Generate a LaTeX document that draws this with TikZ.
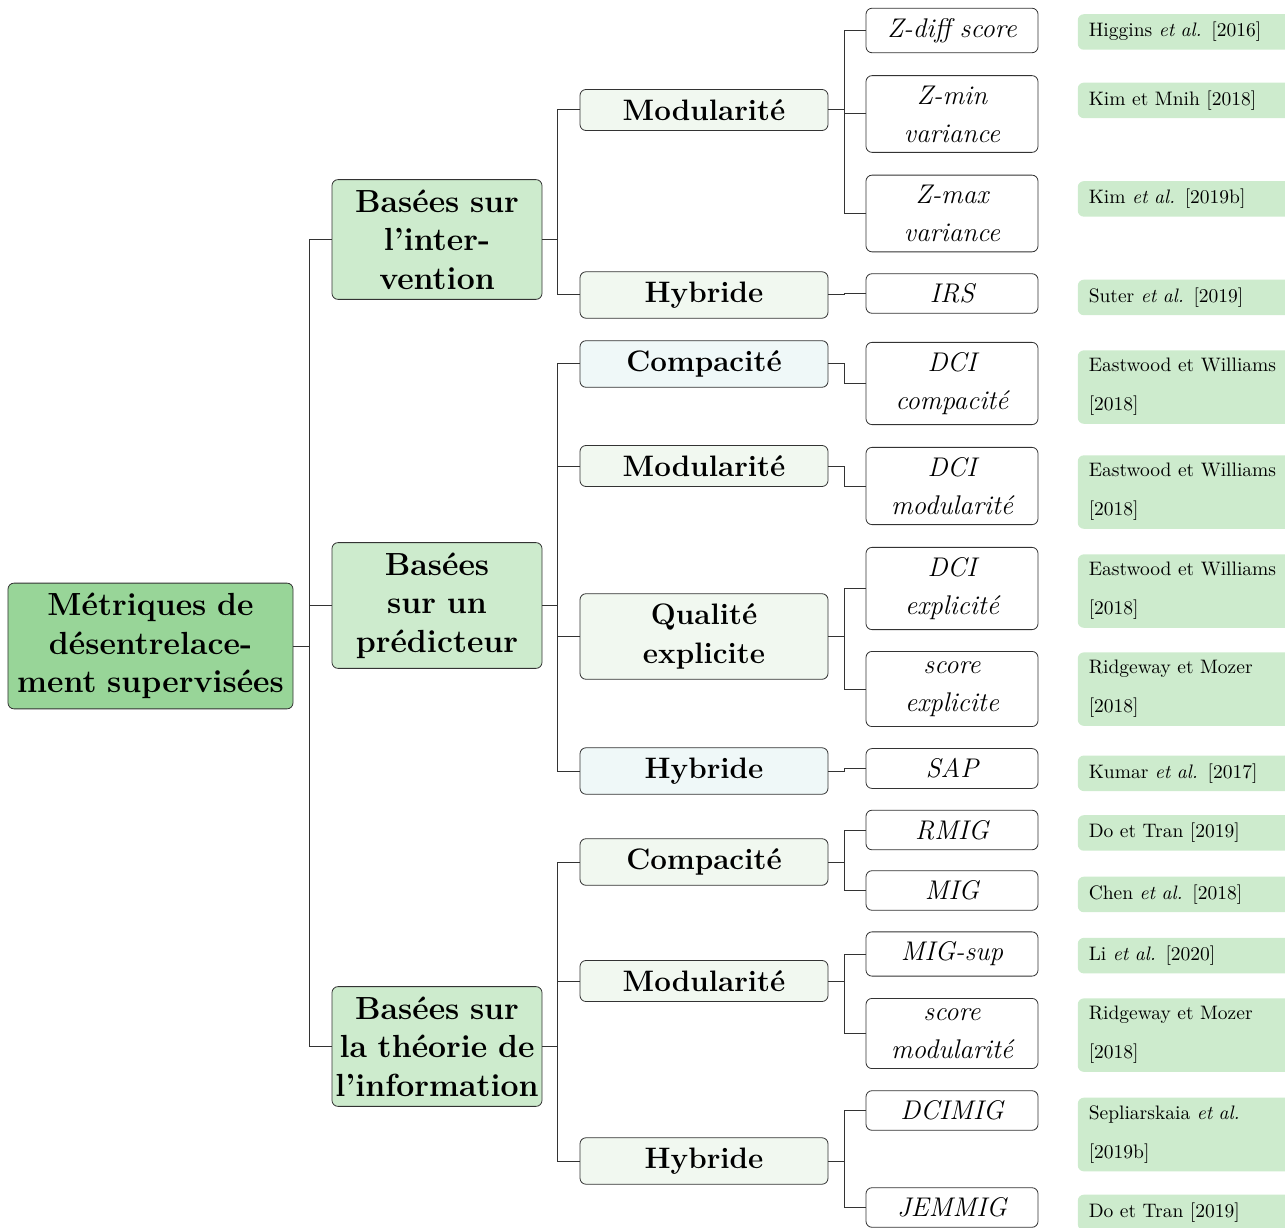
\documentclass[tikz,border=0pt]{standalone}
\usepackage{xcolor}
\usepackage{tikz}
\usetikzlibrary{shapes,arrows,positioning}
\definecolor{rootgreen}{HTML}{98D598}
\definecolor{catgreen}{HTML}{CDEBCD}
\definecolor{palegreen}{HTML}{F1F8F0}
\definecolor{paleblue}{HTML}{EFF8F8}
\tikzstyle{rootblock} = [rectangle, draw=black!80, fill=rootgreen, 
    text width=139pt, align=center, rounded corners=3pt, inner xsep=1.75pt, inner ysep=5pt,
    font={\fontsize{16}{19.25}\selectfont\bfseries}]
\tikzstyle{block} = [rectangle, draw=black!80, fill=catgreen, 
    text width=102pt, align=center, rounded corners=3pt, inner xsep=1.5pt, inner ysep=5pt,
    font={\fontsize{16}{19.25}\selectfont\bfseries}]
\tikzstyle{subblock} = [rectangle, draw=black!80, fill=palegreen, 
    text width=113pt, align=center, rounded corners=3pt, inner xsep=5.5pt, inner ysep=5pt,
    font={\fontsize{14.8}{19.5}\selectfont\bfseries}]
\tikzstyle{metric} = [rectangle, draw=black!80, fill=white, 
    text width=75pt, align=center, rounded corners=3pt, inner xsep=5.5pt, inner ysep=5pt,
    font={\fontsize{13.5}{19}\selectfont\itshape}]
\tikzstyle{reference} = [rectangle, fill=catgreen, 
    text width=97pt, align=left, rounded corners=3pt, inner xsep=5.5pt, inner ysep=4pt,
    font={\fontsize{9.75}{19.5}\selectfont}]
\tikzstyle{line} = [draw=black!80, line width=0.5pt]

\begin{document}
\begin{tikzpicture}
      \useasboundingbox (-75.25pt,-290.5pt) rectangle (567.25pt,323pt);
      % Place nodes
      \node [rootblock] (root) at (0,0) {Métriques de\\désentrelace-\\ment supervisées};

      \node [block, right of=root, node distance=143.25pt, yshift=203.25pt] (intervention) {Basées sur\\l’inter-\\vention};
      \node [block, right of=root, node distance=143.25pt, yshift=20.25pt] (predictor) {Basées\\sur un\\prédicteur};
      \node [block, right of=root, node distance=143.25pt, yshift=-200.25pt] (information) {Basées sur\\la théorie de\\l’information};

      \node [subblock, right of=intervention, node distance=133.5pt, yshift=64.75pt] (modIntervention) {Modularité};
      \node [subblock, right of=intervention, node distance=133.5pt, yshift=-27.75pt] (hybIntervention) {Hybride};
      \node [subblock, fill=paleblue, right of=predictor, node distance=133.5pt, yshift=120.75pt] (compPredictor) {Compacité};
      \node [subblock, right of=predictor, node distance=133.5pt, yshift=69.75pt] (modPredictor) {Modularité};
      \node [subblock, right of=predictor, node distance=133.5pt, yshift=-15.5pt] (qualPredictor) {Qualité\\explicite};
      \node [subblock, fill=paleblue, right of=predictor, node distance=133.5pt, yshift=-82.75pt] (hybPredictor) {Hybride};
      \node [subblock, right of=information, node distance=133.5pt, yshift=92.25pt] (compInformation) {Compacité};
      \node [subblock, right of=information, node distance=133.5pt, yshift=32.75pt] (modInformation) {Modularité};
      \node [subblock, right of=information, node distance=133.5pt, yshift=-57.25pt] (hybInformation) {Hybride};

      \node [metric, right of=modIntervention, node distance=124pt, yshift=39.75pt] (zDiff) {Z-diff score};
      \node [metric, right of=modIntervention, node distance=124pt, yshift=-2pt] (zMin) {Z-min\\variance};
      \node [metric, right of=modIntervention, node distance=124pt, yshift=-51.75pt] (zMax) {Z-max\\variance};
      \node [metric, right of=hybIntervention, node distance=124pt, yshift=0.75pt] (irs) {IRS};
      \node [metric, right of=compPredictor, node distance=124pt, yshift=-9.75pt] (dciCompact) {DCI\\compacité};
      \node [metric, right of=modPredictor, node distance=124pt, yshift=-10pt] (dciModular) {DCI\\modularité};
      \node [metric, right of=qualPredictor, node distance=124pt, yshift=24pt] (dciExplicit) {DCI\\explicité};
      \node [metric, right of=qualPredictor, node distance=124pt, yshift=-26.25pt] (scoreExplicit) {score\\explicite};
      \node [metric, right of=hybPredictor, node distance=124pt, yshift=1.25pt] (sap) {SAP};
      \node [metric, right of=compInformation, node distance=124pt, yshift=16pt] (rmig) {RMIG};
      \node [metric, right of=compInformation, node distance=124pt, yshift=-14.25pt] (mig) {MIG};
      \node [metric, right of=modInformation, node distance=124pt, yshift=13.5pt] (migSup) {MIG-sup};
      \node [metric, right of=modInformation, node distance=124pt, yshift=-26.25pt] (scoreModular) {score\\modularité};
      \node [metric, right of=hybInformation, node distance=124pt, yshift=25.25pt] (dciMig) {DCIMIG};
      \node [metric, right of=hybInformation, node distance=124pt, yshift=-23.25pt] (jemmig) {JEMMIG};

      \node [reference, below right=3pt and 19.5pt of zDiff.north east] (refZDiff) {Higgins \textit{et al.} [2016]};
      \node [reference, below right=3.5pt and 19.5pt of zMin.north east] (refZMin) {Kim et Mnih [2018]};
      \node [reference, below right=3pt and 19.5pt of zMax.north east] (refZMax) {Kim \textit{et al.} [2019b]};
      \node [reference, below right=3pt and 19.5pt of irs.north east] (refIrs) {Suter \textit{et al.} [2019]};
      \node [reference, below right=4pt and 19.5pt of dciCompact.north east] (refDciCompact) {Eastwood et Williams [2018]};
      \node [reference, below right=4pt and 19.5pt of dciModular.north east] (refDciModular) {Eastwood et Williams [2018]};
      \node [reference, below right=3.5pt and 19.5pt of dciExplicit.north east] (refDciExplicit) {Eastwood et Williams [2018]};
      \node [reference, below right=0.5pt and 19.5pt of scoreExplicit.north east] (refScoreExplicit) {Ridgeway et Mozer [2018]};
      \node [reference, below right=3.5pt and 19.5pt of sap.north east] (refSap) {Kumar \textit{et al.} [2017]};
      \node [reference, below right=2.5pt and 19.5pt of rmig.north east] (refRmig) {Do et Tran [2019]};
      \node [reference, below right=3pt and 19.5pt of mig.north east] (refMig) {Chen \textit{et al.} [2018]};
      \node [reference, below right=3pt and 19.5pt of migSup.north east] (refMigSup) {Li \textit{et al.} [2020]};
      \node [reference, below right=0pt and 19.5pt of scoreModular.north east] (refScoreModular) {Ridgeway et Mozer [2018]};
      \node [reference, below right=3.5pt and 19.5pt of dciMig.north east] (refDciMig) {Sepliarskaia \textit{et al.} [2019b]};
      \node [reference, below right=3.5pt and 19.5pt of jemmig.north east] (refJemmig) {Do et Tran [2019]};

      % Connect nodes
      \path [line] (root.east) -- ++(8pt,0) |- (intervention.west);
      \path [line] (root.east) -- ++(8pt,0) |- (predictor.west);
      \path [line] (root.east) -- ++(8pt,0) |- (information.west);

      \path [line] (intervention.east) -- ++(7.5pt,0) |- (modIntervention.west);
      \path [line] (intervention.east) -- ++(7.5pt,0) |- (hybIntervention.west);
      \path [line] (predictor.east) -- ++(7.5pt,0) |- (compPredictor.west);
      \path [line] (predictor.east) -- ++(7.5pt,0) |- (modPredictor.west);
      \path [line] (predictor.east) -- ++(7.5pt,0) |- (qualPredictor.west);
      \path [line] (predictor.east) -- ++(7.5pt,0) |- (hybPredictor.west);
      \path [line] (information.east) -- ++(7.5pt,0) |- (compInformation.west);
      \path [line] (information.east) -- ++(7.5pt,0) |- (modInformation.west);
      \path [line] (information.east) -- ++(7.5pt,0) |- (hybInformation.west);
%
      \path [line] (modIntervention.east) -- ++(8pt,0) |- (zDiff.west);
      \path [line] (modIntervention.east) -- ++(8pt,0) |- (zMin.west);
      \path [line] (modIntervention.east) -- ++(8pt,0) |- (zMax.west);
      \path [line] (hybIntervention.east) -- ++(8pt,0) |- (irs.west);
      \path [line] (compPredictor.east) -- ++(8pt,0) |- (dciCompact.west);
      \path [line] (modPredictor.east) -- ++(8pt,0) |- (dciModular.west);
      \path [line] (qualPredictor.east) -- ++(8pt,0) |- (dciExplicit.west);
      \path [line] (qualPredictor.east) -- ++(8pt,0) |- (scoreExplicit.west);
      \path [line] (hybPredictor.east) -- ++(8pt,0) |- (sap.west);
      \path [line] (compInformation.east) -- ++(8pt,0) |- (rmig.west);
      \path [line] (compInformation.east) -- ++(8pt,0) |- (mig.west);
      \path [line] (modInformation.east) -- ++(8pt,0) |- (migSup.west);
      \path [line] (modInformation.east) -- ++(8pt,0) |- (scoreModular.west);
      \path [line] (hybInformation.east) -- ++(8pt,0) |- (dciMig.west);
      \path [line] (hybInformation.east) -- ++(8pt,0) |- (jemmig.west);

  \end{tikzpicture}
\end{document}
